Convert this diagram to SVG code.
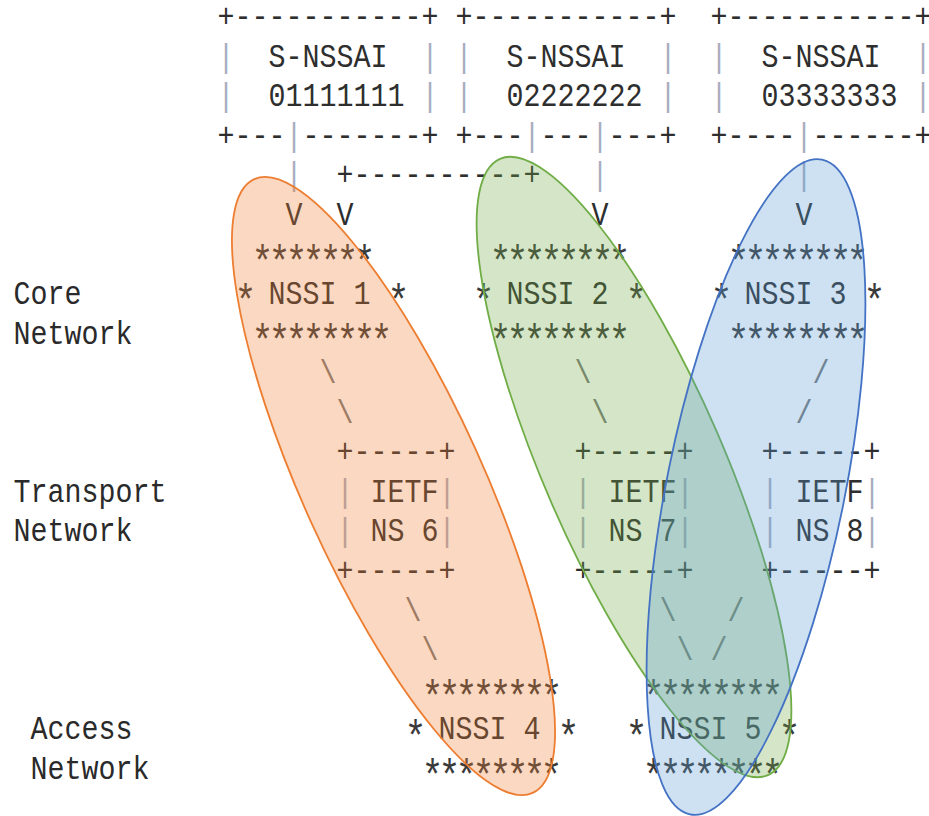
<svg xmlns="http://www.w3.org/2000/svg" width="929" height="816" viewBox="0 0 929 816" xml:space="preserve">
<style>
text{font-family:"Liberation Mono","DejaVu Sans Mono",monospace;font-size:34px;fill:#2e2e2e;white-space:pre}
.st{font-size:44px;letter-spacing:-6px;fill:#3a3a3a}
.p{fill:#a9adbf}
.s{fill:#7a7a7a}
.lbl{fill:#2a2a2a}
.slice{stroke-width:1.8}
</style>
<rect width="929" height="816" fill="#ffffff"/>
<g id="ascii" transform="scale(0.833333 1)">
<g id="labels">
<text class="lbl" x="16.2" y="304.1">Core</text>
<text class="lbl" x="16.2" y="343.6">Network</text>
<text class="lbl" x="16.2" y="502">Transport</text>
<text class="lbl" x="16.2" y="541.5">Network</text>
<text class="lbl" x="36.6" y="739.4">Access</text>
<text class="lbl" x="36.6" y="779">Network</text>
</g>
<g id="snssai-1">
<text x="261" y="27">+-----------+</text>
<text x="261" y="66.6"><tspan class="p">|</tspan>  S-NSSAI  <tspan class="p">|</tspan></text>
<text x="261" y="106.2"><tspan class="p">|</tspan>  01111111 <tspan class="p">|</tspan></text>
<text x="261" y="145.7">+---<tspan class="p">|</tspan>-------+</text>
</g>
<g id="snssai-2">
<text x="546.6" y="27">+-----------+</text>
<text x="546.6" y="66.6"><tspan class="p">|</tspan>  S-NSSAI  <tspan class="p">|</tspan></text>
<text x="546.6" y="106.2"><tspan class="p">|</tspan>  02222222 <tspan class="p">|</tspan></text>
<text x="546.6" y="145.7">+---<tspan class="p">|</tspan>---<tspan class="p">|</tspan>---+</text>
</g>
<g id="snssai-3">
<text x="852.6" y="27">+-----------+</text>
<text x="852.6" y="66.6"><tspan class="p">|</tspan>  S-NSSAI  <tspan class="p">|</tspan></text>
<text x="852.6" y="106.2"><tspan class="p">|</tspan>  03333333 <tspan class="p">|</tspan></text>
<text x="852.6" y="145.7">+----<tspan class="p">|</tspan>------+</text>
</g>
<g id="nssi-1">
<text class="st" x="301.8" y="275.8">*******</text>
<text class="st" x="281.4" y="315.4">*</text>
<text x="322.2" y="304.1">NSSI 1</text>
<text class="st" x="465" y="315.4">*</text>
<text class="st" x="301.8" y="354.9">********</text>
</g>
<g id="nssi-2">
<text class="st" x="587.4" y="275.8">********</text>
<text class="st" x="567" y="315.4">*</text>
<text x="607.8" y="304.1">NSSI 2</text>
<text class="st" x="750.6" y="315.4">*</text>
<text class="st" x="587.4" y="354.9">********</text>
</g>
<g id="nssi-3">
<text class="st" x="873" y="275.8">********</text>
<text class="st" x="852.6" y="315.4">*</text>
<text x="893.4" y="304.1">NSSI 3</text>
<text class="st" x="1036.2" y="315.4">*</text>
<text class="st" x="873" y="354.9">********</text>
</g>
<g id="ietf-ns-6">
<text x="403.8" y="462.4">+-----+</text>
<text x="403.8" y="502"><tspan class="p">|</tspan> IETF<tspan class="p">|</tspan></text>
<text x="403.8" y="541.5"><tspan class="p">|</tspan> NS 6<tspan class="p">|</tspan></text>
<text x="403.8" y="581.1">+-----+</text>
</g>
<g id="ietf-ns-7">
<text x="689.4" y="462.4">+-----+</text>
<text x="689.4" y="502"><tspan class="p">|</tspan> IETF<tspan class="p">|</tspan></text>
<text x="689.4" y="541.5"><tspan class="p">|</tspan> NS 7<tspan class="p">|</tspan></text>
<text x="689.4" y="581.1">+-----+</text>
</g>
<g id="ietf-ns-8">
<text x="913.8" y="462.4">+-----+</text>
<text x="913.8" y="502"><tspan class="p">|</tspan> IETF<tspan class="p">|</tspan></text>
<text x="913.8" y="541.5"><tspan class="p">|</tspan> NS 8<tspan class="p">|</tspan></text>
<text x="913.8" y="581.1">+-----+</text>
</g>
<g id="nssi-4">
<text class="st" x="505.8" y="711.2">********</text>
<text class="st" x="485.4" y="750.7">*</text>
<text x="526.2" y="739.4">NSSI 4</text>
<text class="st" x="669" y="750.7">*</text>
<text class="st" x="505.8" y="790.3">********</text>
</g>
<g id="nssi-5">
<text class="st" x="771" y="711.2">********</text>
<text class="st" x="750.6" y="750.7">*</text>
<text x="791.4" y="739.4">NSSI 5</text>
<text class="st" x="934.2" y="750.7">*</text>
<text class="st" x="771" y="790.3">********</text>
</g>
<g id="connectors">
<text class="p" x="342.6" y="185.3">|</text>
<text x="403.8" y="185.3">+----------+</text>
<text class="p" x="709.8" y="185.3">|</text>
<text class="p" x="954.6" y="185.3">|</text>
<text x="342.6" y="224.9">V</text>
<text x="403.8" y="224.9">V</text>
<text x="709.8" y="224.9">V</text>
<text x="954.6" y="224.9">V</text>
<text class="s" x="383.4" y="383.2">\</text>
<text class="s" x="403.8" y="422.8">\</text>
<text class="s" x="689.4" y="383.2">\</text>
<text class="s" x="709.8" y="422.8">\</text>
<text class="s" x="975" y="383.2">/</text>
<text class="s" x="954.6" y="422.8">/</text>
<text class="s" x="485.4" y="620.7">\</text>
<text class="s" x="505.8" y="660.3">\</text>
<text class="s" x="791.4" y="620.7">\</text>
<text class="s" x="811.8" y="660.3">\</text>
<text class="s" x="873" y="620.7">/</text>
<text class="s" x="852.6" y="660.3">/</text>
</g>
</g>
<g id="slices" class="slice">
<ellipse id="slice-orange" cx="393.5" cy="486" rx="90" ry="337" transform="rotate(-24.4 393.5 486)" fill="#ed7d31" fill-opacity="0.3" stroke="#ed7d31"/>
<ellipse id="slice-green" cx="634" cy="467" rx="90" ry="336" transform="rotate(-23.5 634 467)" fill="#70ad47" fill-opacity="0.3" stroke="#70ad47"/>
<ellipse id="slice-blue" cx="756" cy="487" rx="89" ry="334" transform="rotate(11.4 756 487)" fill="#5b9bd5" fill-opacity="0.3" stroke="#4472c4"/>
</g>
</svg>
